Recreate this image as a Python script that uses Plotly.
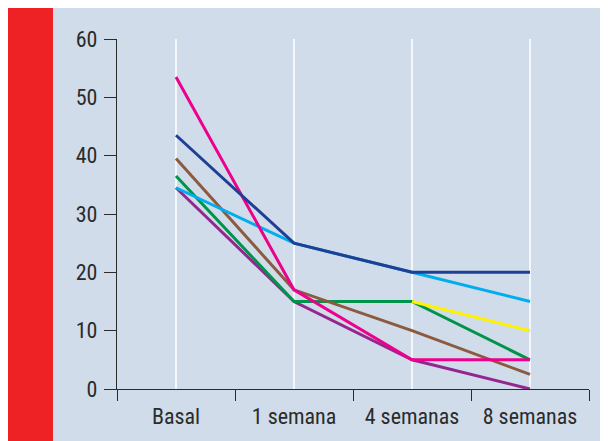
import plotly.graph_objects as go

categories = ["Basal", "1 semana", "4 semanas", "8 semanas"]

purple = [34.5, 15, 5, 0]
green = [36.5, 15, 15, 5]
brown = [39.5, 17, 10, 2.5]
light_blue = [34.5, 25, 20, 15]
pink = [53.5, 17, 5, 5]
dark_blue = [43.5, 25, 20, 20]
yellow = [None, None, 15, 10]

y_ticks = [0, 10, 20, 30, 40, 50, 60]

series = [
    (purple, "#93278f"),
    (green, "#00934a"),
    (brown, "#8c5a3f"),
    (light_blue, "#00aeef"),
    (pink, "#ec008c"),
    (dark_blue, "#1e3f94"),
    (yellow, "#fff200"),
]

BG = "#d0dcea"
INK = "#2b2b2b"
FONT = "Roboto Condensed, sans-serif"

fig = go.Figure()
for vals, col in series:
    fig.add_trace(go.Scatter(
        x=categories, y=vals, mode="lines",
        line=dict(color=col, width=3),
        cliponaxis=False, showlegend=False, hoverinfo="skip",
    ))

W, H = 608, 441
L, R, T, B = 109, 27, 31, 60
pw, ph = W - L - R, H - T - B

def px_x(p):
    return (p - L) / pw

def px_y(p):
    return (H - B - p) / ph

shapes = [
    # red bar
    dict(type="rect", xref="paper", yref="paper", x0=px_x(0), x1=px_x(45), y0=px_y(H), y1=px_y(0),
         fillcolor="#ee2225", line=dict(width=0), layer="below"),
]
for c in categories:
    shapes.append(dict(type="line", xref="x", yref="y", x0=c, x1=c, y0=0, y1=60,
                       line=dict(color="white", width=1.5), layer="below"))

fig.update_layout(
    width=W, height=H,
    margin=dict(l=L, r=R, t=T, b=B, pad=0),
    paper_bgcolor=BG, plot_bgcolor=BG,
    font=dict(family=FONT, size=22, color=INK),
    shapes=shapes,
    xaxis=dict(
        type="category", categoryorder="array", categoryarray=categories,
        range=[-0.5, 3.5], tickson="boundaries", ticks="outside", ticklen=11,
        tickcolor=INK, tickwidth=1.3, showline=True, linecolor=INK, linewidth=1.3,
        showgrid=False, zeroline=False, ticklabelstandoff=7,
    ),
    yaxis=dict(
        range=[0, 60], tickvals=y_ticks, ticks="outside", ticklen=12,
        tickcolor=INK, tickwidth=1.3, showline=True, linecolor=INK, linewidth=1.3,
        showgrid=False, zeroline=False, ticklabelstandoff=2,
    ),
)

fig.write_html("out.html")
